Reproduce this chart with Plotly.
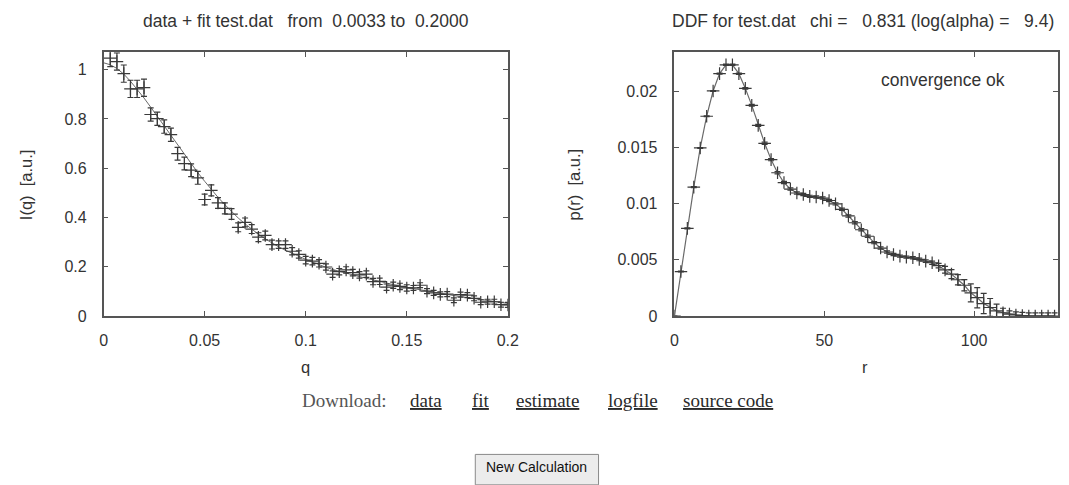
import plotly.graph_objects as go

# ---------------- data: I(q) ----------------
q_vals = [0.0033, 0.0066, 0.0100, 0.0133, 0.0166, 0.0200, 0.0233, 0.0266, 0.0300, 0.0333,
          0.0366, 0.0400, 0.0433, 0.0466, 0.0500, 0.0533, 0.0566, 0.0600, 0.0633, 0.0666,
          0.0700, 0.0733, 0.0766, 0.0800, 0.0833, 0.0866, 0.0900, 0.0933, 0.0966, 0.1000,
          0.1033, 0.1066, 0.1100, 0.1133, 0.1166, 0.1200, 0.1233, 0.1266, 0.1300, 0.1333,
          0.1366, 0.1400, 0.1433, 0.1466, 0.1500, 0.1533, 0.1566, 0.1600, 0.1633, 0.1666,
          0.1700, 0.1733, 0.1766, 0.1800, 0.1833, 0.1866, 0.1900, 0.1933, 0.1966, 0.2000]
i_vals = [1.047, 1.033, 0.984, 0.922, 0.922, 0.927, 0.818, 0.801, 0.769, 0.736,
          0.659, 0.619, 0.592, 0.561, 0.473, 0.510, 0.459, 0.437, 0.414, 0.360,
          0.380, 0.353, 0.320, 0.327, 0.290, 0.290, 0.290, 0.263, 0.250, 0.227,
          0.223, 0.214, 0.199, 0.170, 0.180, 0.187, 0.176, 0.167, 0.170, 0.140,
          0.141, 0.117, 0.125, 0.120, 0.114, 0.114, 0.125, 0.101, 0.094, 0.088,
          0.089, 0.064, 0.087, 0.085, 0.072, 0.056, 0.058, 0.058, 0.046, 0.045]
i_err = [0.035, 0.035, 0.035, 0.035, 0.035, 0.035, 0.027, 0.027, 0.027, 0.027,
         0.026, 0.026, 0.026, 0.026, 0.022, 0.022, 0.022, 0.022, 0.022, 0.018,
         0.018, 0.018, 0.018, 0.018, 0.018, 0.015, 0.015, 0.015, 0.015, 0.015,
         0.015, 0.015, 0.013, 0.013, 0.013, 0.013, 0.013, 0.013, 0.013, 0.013,
         0.013, 0.013, 0.013, 0.013, 0.013, 0.010, 0.010, 0.010, 0.010, 0.010,
         0.010, 0.010, 0.010, 0.010, 0.010, 0.010, 0.010, 0.010, 0.010, 0.010]
fit_q = [0.0000, 0.0033, 0.0066, 0.0100, 0.0133, 0.0166, 0.0200, 0.0233, 0.0266, 0.0300, 0.0333,
         0.0366, 0.0400, 0.0433, 0.0466, 0.0500, 0.0533, 0.0566, 0.0600, 0.0633, 0.0666,
         0.0700, 0.0733, 0.0766, 0.0800, 0.0833, 0.0866, 0.0900, 0.0933, 0.0966, 0.1000,
         0.1033, 0.1066, 0.1100, 0.1133, 0.1166, 0.1200, 0.1233, 0.1266, 0.1300, 0.1333,
         0.1366, 0.1400, 0.1433, 0.1466, 0.1500, 0.1533, 0.1566, 0.1600, 0.1633, 0.1666,
         0.1700, 0.1733, 0.1766, 0.1800, 0.1833, 0.1866, 0.1900, 0.1933, 0.1966, 0.2000]
fit_i = [1.028, 1.020, 1.005, 0.982, 0.953, 0.920, 0.885, 0.848, 0.810, 0.771, 0.732,
         0.693, 0.655, 0.618, 0.582, 0.547, 0.514, 0.482, 0.452, 0.424, 0.398,
         0.374, 0.352, 0.332, 0.313, 0.296, 0.281, 0.267, 0.254, 0.242, 0.230,
         0.219, 0.208, 0.198, 0.189, 0.181, 0.174, 0.167, 0.160, 0.153, 0.146,
         0.139, 0.132, 0.126, 0.121, 0.116, 0.111, 0.106, 0.101, 0.096, 0.091,
         0.087, 0.083, 0.079, 0.075, 0.071, 0.067, 0.063, 0.059, 0.055, 0.051]

# ---------------- data: p(r) ----------------
r_vals = [0.00, 2.15, 4.30, 6.45, 8.60, 10.75, 12.90, 15.05, 17.20, 19.35, 21.50,
          23.65, 25.80, 27.95, 30.10, 32.25, 34.40, 36.55, 38.70, 40.85, 43.00,
          45.15, 47.30, 49.45, 51.60, 53.75, 55.90, 58.05, 60.20, 62.35, 64.50,
          66.65, 68.80, 70.95, 73.10, 75.25, 77.40, 79.55, 81.70, 83.85, 86.00,
          88.15, 90.30, 92.45, 94.60, 96.75, 98.90, 101.05, 103.20, 105.35, 107.50,
          109.65, 111.80, 113.95, 116.10, 118.25, 120.40, 122.55, 124.70, 126.85]
p_vals = [0.0, 0.00396, 0.00780, 0.01147, 0.01496, 0.01778, 0.02003, 0.02157, 0.02236, 0.02236, 0.02157,
          0.02026, 0.01875, 0.01697, 0.01537, 0.01392, 0.01275, 0.01188, 0.01130, 0.01095, 0.01081,
          0.01065, 0.01059, 0.01050, 0.01028, 0.00998, 0.00950, 0.00891, 0.00830, 0.00768, 0.00710,
          0.00653, 0.00605, 0.00570, 0.00548, 0.00533, 0.00524, 0.00518, 0.00504, 0.00489, 0.00474,
          0.00448, 0.00411, 0.00373, 0.00323, 0.00274, 0.00206, 0.00163, 0.00111, 0.00076, 0.00046,
          0.00029, 0.00017, 0.00009, 0.00004, 0.0, 0.0, 0.0, 0.0, 0.0, 0.0]
p_err = [0.0, 0.00004, 0.00004, 0.00004, 0.00004, 0.00004, 0.00004, 0.00004, 0.00005, 0.00005, 0.00006,
         0.00007, 0.00008, 0.00009, 0.0001, 0.0001, 0.0001, 0.0001, 0.0001, 0.0001, 0.0001,
         0.0001, 0.0001, 0.0001, 0.0001, 0.0001, 0.0001, 0.0001, 0.0001, 0.0001, 0.0001,
         0.0001, 0.0001, 0.0001, 0.0001, 0.0001, 0.0001, 0.0001, 0.00012, 0.00012, 0.00015,
         0.0002, 0.0003, 0.0004, 0.00045, 0.0005, 0.0008, 0.0009, 0.0009, 0.0008, 0.0006,
         0.0004, 0.00028, 0.00028, 0.00028, 0.00028, 0.00028, 0.00028, 0.00028, 0.00028, 0.00028]

left_xticks = [0, 0.05, 0.1, 0.15, 0.2]
left_xtext = ["0", "0.05", "0.1", "0.15", "0.2"]
left_yticks = [0, 0.2, 0.4, 0.6, 0.8, 1.0]
left_ytext = ["0", "0.2", "0.4", "0.6", "0.8", "1"]
right_xticks = [0, 50, 100]
right_xtext = ["0", "50", "100"]
right_yticks = [0, 0.005, 0.01, 0.015, 0.02]
right_ytext = ["0", "0.005", "0.01", "0.015", "0.02"]

title_left = "data + fit test.dat   from  0.0033 to  0.2000"
title_right = "DDF for test.dat   chi =   0.831 (log(alpha) =   9.4)"
links = ["data", "fit", "estimate", "logfile", "source code"]

# ---------------- layout helpers ----------------
W, H = 1069, 485
def px(x):
    return x / W
def py(y):
    return 1 - y / H

FONT = "Liberation Sans, Arial, sans-serif"
SERIF = "Liberation Serif, Times New Roman, serif"
TXT = "#333333"
AX = "#555555"
PT = "#3a3a3a"
LN = "#6a6a6a"

fig = go.Figure()

fig.add_trace(go.Scatter(x=fit_q, y=fit_i, mode="lines", line=dict(color=LN, width=1),
                         xaxis="x", yaxis="y", showlegend=False, hoverinfo="skip"))
fig.add_trace(go.Scatter(x=q_vals, y=i_vals, mode="markers",
                         marker=dict(symbol="cross-thin", size=9, line=dict(width=1.2, color=PT), color=PT),
                         error_y=dict(type="data", array=i_err, color=PT, thickness=1.2, width=3),
                         xaxis="x", yaxis="y", showlegend=False))

fig.add_trace(go.Scatter(x=r_vals, y=p_vals, mode="lines", line=dict(color=LN, width=1.2),
                         xaxis="x2", yaxis="y2", showlegend=False, hoverinfo="skip"))
fig.add_trace(go.Scatter(x=r_vals, y=p_vals, mode="markers",
                         marker=dict(symbol="cross-thin", size=9, line=dict(width=1.2, color=PT), color=PT),
                         error_y=dict(type="data", array=p_err, color=PT, thickness=1.2, width=3),
                         xaxis="x2", yaxis="y2", showlegend=False))

ydom = [py(322), py(53.3)]
common = dict(showline=True, linecolor=AX, linewidth=1.5, mirror="ticks", ticks="inside",
              ticklen=5, tickwidth=1.2, tickcolor=AX, showgrid=False, zeroline=False,
              tickfont=dict(family=FONT, size=16, color=TXT))

fig.update_layout(
    width=W, height=H,
    margin=dict(l=0, r=0, t=0, b=0),
    paper_bgcolor="white", plot_bgcolor="white",
    font=dict(family=FONT, size=16, color=TXT),
    xaxis=dict(domain=[px(101), px(511)], range=[0, 0.2], tickvals=left_xticks, ticktext=left_xtext,
               anchor="y", ticklabelstandoff=9, **common),
    yaxis=dict(domain=ydom, range=[0, 1.0705], tickvals=left_yticks, ticktext=left_ytext,
               anchor="x", ticklabelstandoff=12, **common),
    xaxis2=dict(domain=[px(680), 1.0], range=[0, 128.0], tickvals=right_xticks, ticktext=right_xtext,
                anchor="y2", ticklabelstandoff=9, **common),
    yaxis2=dict(domain=ydom, range=[0, 0.02347], tickvals=right_yticks, ticktext=right_ytext,
                anchor="x2", ticklabelstandoff=12, **common),
)

ann = []
ann.append(dict(text=title_left, x=px(306), y=py(21), xref="paper", yref="paper",
                showarrow=False, xanchor="center", yanchor="middle", font=dict(size=17.5, color=TXT)))
ann.append(dict(text=title_right, x=px(871), y=py(21), xref="paper", yref="paper",
                showarrow=False, xanchor="center", yanchor="middle", font=dict(size=17.5, color=TXT)))
ann.append(dict(text="q", x=px(306), y=py(374), xref="paper", yref="paper",
                showarrow=False, xanchor="center", yanchor="middle", font=dict(size=16.5, color=TXT)))
ann.append(dict(text="r", x=px(873), y=py(374), xref="paper", yref="paper",
                showarrow=False, xanchor="center", yanchor="middle", font=dict(size=16.5, color=TXT)))
ann.append(dict(text="I(q)  [a.u.]", x=px(22), y=py(188), xref="paper", yref="paper", textangle=-90,
                showarrow=False, xanchor="center", yanchor="middle", font=dict(size=16.5, color=TXT)))
ann.append(dict(text="p(r)  [a.u.]", x=px(578), y=py(188), xref="paper", yref="paper", textangle=-90,
                showarrow=False, xanchor="center", yanchor="middle", font=dict(size=16.5, color=TXT)))
ann.append(dict(text="convergence ok", x=px(952), y=py(82), xref="paper", yref="paper",
                showarrow=False, xanchor="center", yanchor="middle", font=dict(size=17.5, color=TXT)))

# Download row
ann.append(dict(text="Download:", x=px(300), y=py(408), xref="paper", yref="paper",
                showarrow=False, xanchor="left", yanchor="middle",
                font=dict(family=SERIF, size=19, color="#555555")))
link_x = [410, 473, 517, 611, 687]
for lx, lt in zip(link_x, links):
    ann.append(dict(text="<u>" + lt + "</u>", x=px(lx), y=py(408), xref="paper", yref="paper",
                    showarrow=False, xanchor="left", yanchor="middle",
                    font=dict(family=SERIF, size=19, color="#2a2a2a")))

# button
ann.append(dict(text="New Calculation", x=px(540), y=py(476), xref="paper", yref="paper",
                showarrow=False, xanchor="center", yanchor="middle",
                font=dict(family=FONT, size=14, color="#111111")))
fig.update_layout(annotations=ann)
fig.add_shape(type="rect", xref="paper", yref="paper", x0=px(478), x1=px(603), y0=py(494), y1=py(463),
              line=dict(color="#8a8a8a", width=1), fillcolor="#ececec", layer="below")

fig.write_html("out.html", config={"displayModeBar": False},
               post_script="document.body.style.margin='0';")
